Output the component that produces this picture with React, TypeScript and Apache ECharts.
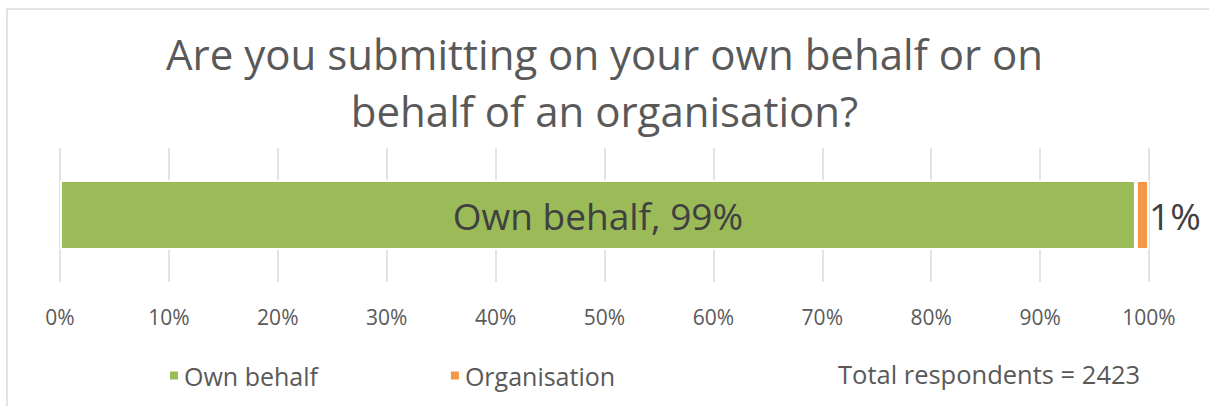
import React, { useEffect, useRef } from "react";
import * as echarts from "echarts";

const titleLines = ["Are you submitting on your own behalf or on", "behalf of an organisation?"];
const categories = ["Respondents"];
const seriesNames = ["Own behalf", "Organisation"];
const ownBehalf = [98.8];
const organisation = [1.2];
const axisMin = 0;
const axisMax = 100;
const axisInterval = 10;
const totalNote = "Total respondents = 2423";

const FONT = "'Open Sans', 'Noto Sans', sans-serif";

export default function App() {
  const ref = useRef<HTMLDivElement>(null);
  useEffect(() => {
    if (!ref.current) return;
    const chart = echarts.init(ref.current, null, { renderer: "svg" });
    chart.setOption({
      animation: false,
      backgroundColor: "#ffffff",
      textStyle: { fontFamily: FONT },
      title: {
        text: titleLines.join("\n"),
        left: "center",
        top: 20,
        textStyle: {
          fontFamily: FONT,
          fontSize: 42,
          fontWeight: "normal",
          color: "#595959",
          lineHeight: 57,
          align: "center",
        },
      },
      legend: {
        left: 163,
        top: 358,
        icon: "rect",
        itemWidth: 10,
        itemHeight: 10,
        itemGap: 131,
        textStyle: { fontFamily: FONT, fontSize: 25, color: "#595959" },
        data: seriesNames,
      },
      graphic: [
        {
          type: "rect",
          shape: { x: 7, y: 9, width: 1400, height: 600 },
          style: { fill: "none", stroke: "#D9D9D9", lineWidth: 1.5 },
          silent: true,
        },
        {
          type: "text",
          left: 838,
          top: 361,
          style: { text: totalNote, fontFamily: FONT, fontSize: 25.5, fill: "#595959" },
        },
      ],
      grid: { left: 60, right: 60, top: 148, height: 134, containLabel: false },
      xAxis: {
        type: "value",
        min: axisMin,
        max: axisMax,
        interval: axisInterval,
        axisLine: { show: false },
        axisTick: { show: false },
        splitLine: { show: true, lineStyle: { color: "#D9D9D9", width: 1.5 } },
        axisLabel: {
          formatter: "{value}%",
          fontFamily: FONT,
          fontSize: 21,
          color: "#595959",
          margin: 24,
        },
      },
      yAxis: {
        type: "category",
        data: categories,
        show: false,
      },
      series: [
        {
          name: seriesNames[0],
          type: "bar",
          stack: "total",
          data: ownBehalf,
          barWidth: 70,
          itemStyle: { color: "#9BBB59", borderColor: "#ffffff", borderWidth: 2 },
          label: {
            show: true,
            position: "inside",
            formatter: (p: any) => `${p.seriesName}, ${Math.round(p.value)}%`,
            fontFamily: FONT,
            fontSize: 37,
            color: "#404040",
          },
        },
        {
          name: seriesNames[1],
          type: "bar",
          stack: "total",
          data: organisation,
          barWidth: 70,
          itemStyle: { color: "#F79646", borderColor: "#ffffff", borderWidth: 2 },
          label: {
            show: true,
            position: "right",
            distance: 0,
            formatter: (p: any) => `${Math.round(p.value)}%`,
            fontFamily: FONT,
            fontSize: 37,
            color: "#404040",
          },
        },
      ],
    });
    return () => chart.dispose();
  }, []);
  return (
    <div
      ref={ref}
      style={{ position: "absolute", left: 0, top: 0, width: 1209, height: 406 }}
    />
  );
}
